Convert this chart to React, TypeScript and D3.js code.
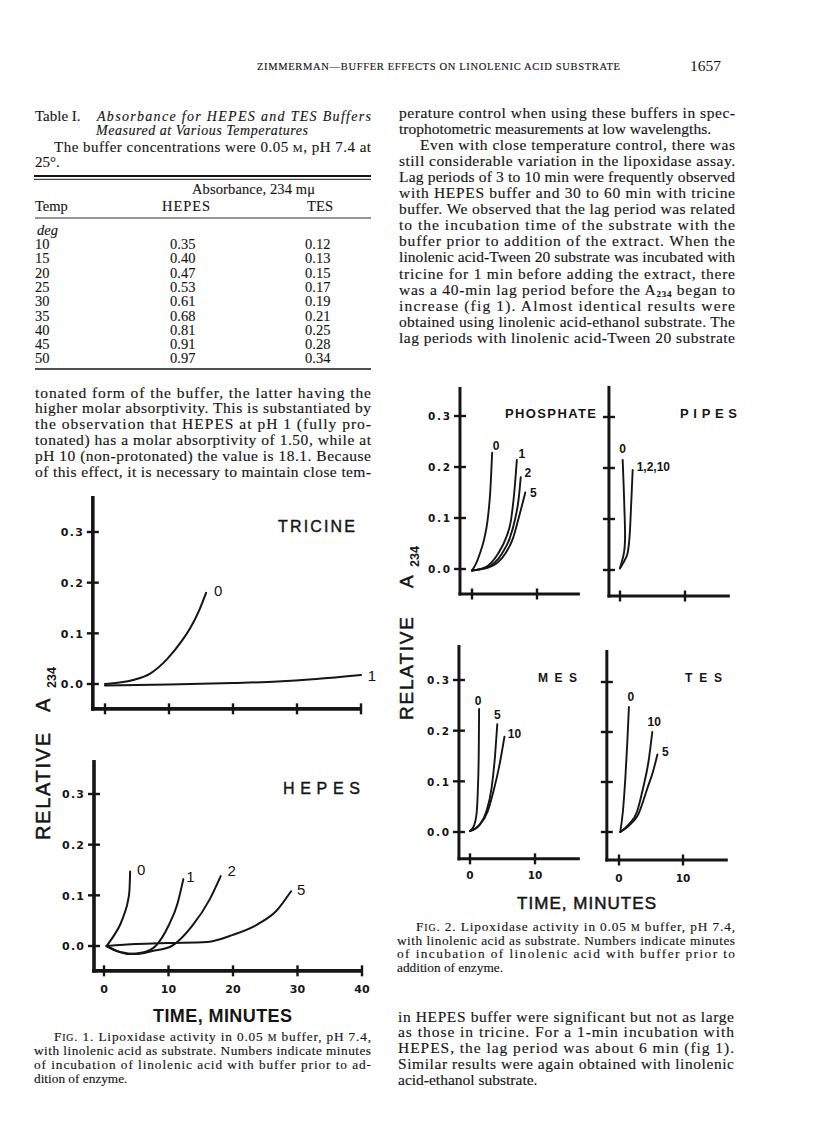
import React from "react";
import * as d3 from "d3";

type Pt = [number, number];

// ---------------- Table I data ----------------
const tableTemps = [10, 15, 20, 25, 30, 35, 40, 45, 50];
const tableHepes = [0.35, 0.4, 0.47, 0.53, 0.61, 0.68, 0.81, 0.91, 0.97];
const tableTes = [0.12, 0.13, 0.15, 0.17, 0.19, 0.21, 0.25, 0.28, 0.34];

// ---------------- shared ticks ----------------
const absTicks = [0.0, 0.1, 0.2, 0.3];
const fig1XTicks = [0, 10, 20, 30, 40];
const fig2XTicks = [0, 10];

// ---------------- Fig. 1 : TRICINE ----------------
const tricine0: Pt[] = [[0, 0], [4.4, 0.008], [7, 0.02], [9.7, 0.049], [12, 0.085], [13.3, 0.11], [14.7, 0.145], [15.8, 0.18]];
const tricine1: Pt[] = [[0, -0.003], [10, -0.001], [20, 0.002], [27, 0.005], [33, 0.01], [40, 0.018]];
const tricineLabels = ["0", "1"];

// ---------------- Fig. 1 : HEPES ----------------
const hepes0: Pt[] = [[0.4, 0], [1.5, 0.02], [2.5, 0.042], [3.2, 0.065], [3.7, 0.088], [3.95, 0.11], [4.05, 0.147]];
const hepes1: Pt[] = [[0.4, 0], [2, -0.01], [4, -0.016], [6, -0.013], [8, 0], [10, 0.04], [11.4, 0.084], [12.3, 0.132]];
const hepes2: Pt[] = [[0.4, 0], [2.5, -0.012], [5, -0.016], [7.5, -0.01], [10.5, 0], [13.7, 0.04], [16.3, 0.09], [18.1, 0.138]];
const hepes5: Pt[] = [[0.4, 0], [5, 0.004], [10, 0.006], [16, 0.008], [20, 0.022], [24, 0.044], [26.7, 0.069], [29, 0.108]];
const hepesLabels = ["0", "1", "2", "5"];

// ---------------- Fig. 2 : PHOSPHATE ----------------
const phosphate0: Pt[] = [[0, -0.003], [0.6, 0.01], [1.2, 0.03], [1.9, 0.06], [2.4, 0.096], [2.8, 0.15], [3.1, 0.228]];
const phosphate1: Pt[] = [[0, -0.003], [2, 0.003], [4, 0.03], [5.2, 0.06], [6, 0.096], [6.5, 0.15], [6.9, 0.214]];
const phosphate2: Pt[] = [[0, -0.003], [2.3, 0.003], [4.6, 0.03], [5.8, 0.06], [6.6, 0.096], [7.2, 0.14], [7.5, 0.18]];
const phosphate5: Pt[] = [[0, -0.003], [2.6, 0.003], [5.1, 0.03], [6.3, 0.06], [7.1, 0.096], [7.8, 0.13], [8.2, 0.15]];
const phosphateLabels = ["0", "1", "2", "5"];

// ---------------- Fig. 2 : PIPES ----------------
const pipes0: Pt[] = [[0, 0.004], [0.6, 0.033], [0.77, 0.059], [0.67, 0.124], [0.41, 0.216]];
const pipes1210: Pt[] = [[0, 0.003], [0.5, 0.014], [1.1, 0.03], [1.43, 0.059], [1.7, 0.124], [1.95, 0.196]];
const pipesLabels = ["0", "1,2,10"];

// ---------------- Fig. 2 : MES ----------------
const mes0: Pt[] = [[0, 0.002], [0.6, 0.012], [1.0, 0.035], [1.2, 0.08], [1.35, 0.16], [1.4, 0.243]];
const mes5: Pt[] = [[0, 0.002], [1.5, 0.015], [2.5, 0.04], [3.3, 0.085], [3.85, 0.15], [4.2, 0.213]];
const mes10: Pt[] = [[0, 0.002], [1.5, 0.014], [2.7, 0.04], [3.6, 0.08], [4.5, 0.13], [5.3, 0.188]];
const mesLabels = ["0", "5", "10"];

// ---------------- Fig. 2 : TES ----------------
const tes0: Pt[] = [[0.2, 0], [0.6, 0.04], [1.0, 0.11], [1.3, 0.18], [1.55, 0.25]];
const tes10: Pt[] = [[0.2, 0], [1.5, 0.015], [2.8, 0.04], [3.8, 0.09], [4.6, 0.14], [5.2, 0.2]];
const tes5: Pt[] = [[0.2, 0], [1.5, 0.012], [3, 0.035], [4.5, 0.09], [5.3, 0.12], [6, 0.155]];
const tesLabels = ["0", "10", "5"];

// ---------------- styling ----------------
const SERIF = "'Liberation Serif', 'Times New Roman', serif";
const SANS = "'Liberation Sans', Arial, sans-serif";
const TICKFONT = "'DejaVu Sans', 'Liberation Sans', sans-serif";
const INK = "#151515";

interface PanelCfg {
  xDomain: [number, number];
  xRange: [number, number];
  yRange: [number, number];
  frame: { x0: number; x1: number; y0: number; y1: number };
  xTicks: number[];
  xTickLabels: boolean;
  xLabelDy: number;
  yTickLabels: boolean;
  tickFont: number;
  title: string;
  titlePos: [number, number, number];
  titleSize: number;
  titleWeight: string;
  series: Pt[][];
  labels: string[];
  labelOffsets: [number, number][];
  labelAnchors?: string[];
  labelSize: number;
  labelWeight: string;
  curve: d3.CurveFactory;
  axisW: number;
  lineW: number;
}

const panels: PanelCfg[] = [
  {
    xDomain: [0, 40], xRange: [105, 361], yRange: [684, 532],
    frame: { x0: -1.9, x1: 40, y0: -0.049, y1: 0.371 },
    xTicks: fig1XTicks, xTickLabels: false, xLabelDy: 22, yTickLabels: true, tickFont: 11,
    title: "TRICINE", titlePos: [278, 532, 77], titleSize: 16, titleWeight: "normal",
    series: [tricine0, tricine1], labels: tricineLabels,
    labelOffsets: [[12, -2], [11, 1]], labelSize: 15, labelWeight: "normal",
    curve: d3.curveMonotoneX, axisW: 3.6, lineW: 2,
  },
  {
    xDomain: [0, 40], xRange: [104, 362], yRange: [946, 794],
    frame: { x0: -1.55, x1: 40, y0: -0.049, y1: 0.367 },
    xTicks: fig1XTicks, xTickLabels: true, xLabelDy: 22.5, yTickLabels: true, tickFont: 11,
    title: "HEPES", titlePos: [283, 794, 77], titleSize: 16, titleWeight: "normal",
    series: [hepes0, hepes1, hepes2, hepes5], labels: hepesLabels,
    labelOffsets: [[11, -2], [7, -3], [11, -5], [10, -2]], labelSize: 15, labelWeight: "normal",
    curve: d3.curveMonotoneX, axisW: 3.6, lineW: 2,
  },
  {
    xDomain: [0, 10], xRange: [472, 537], yRange: [569, 416],
    frame: { x0: -1.85, x1: 16.6, y0: -0.049, y1: 0.357 },
    xTicks: fig2XTicks, xTickLabels: false, xLabelDy: 21, yTickLabels: true, tickFont: 10.5,
    title: "PHOSPHATE", titlePos: [505, 418, 91], titleSize: 13, titleWeight: "bold",
    series: [phosphate0, phosphate1, phosphate2, phosphate5], labels: phosphateLabels,
    labelOffsets: [[4, -7], [5, -6], [7, -5], [8, 0]], labelSize: 12, labelWeight: "bold",
    curve: d3.curveMonotoneX, axisW: 3, lineW: 1.9,
  },
  {
    xDomain: [0, 10], xRange: [620, 685], yRange: [570, 417],
    frame: { x0: -1.7, x1: 16.9, y0: -0.051, y1: 0.361 },
    xTicks: fig2XTicks, xTickLabels: false, xLabelDy: 21, yTickLabels: false, tickFont: 10.5,
    title: "PIPES", titlePos: [680, 418, 57], titleSize: 13, titleWeight: "bold",
    series: [pipes0, pipes1210], labels: pipesLabels,
    labelOffsets: [[0, -11], [4, -3]], labelAnchors: ["middle", "start"], labelSize: 12, labelWeight: "bold",
    curve: d3.curveCatmullRom.alpha(0.5), axisW: 3, lineW: 1.9,
  },
  {
    xDomain: [0, 10], xRange: [470, 535], yRange: [832, 680],
    frame: { x0: -1.7, x1: 16.9, y0: -0.053, y1: 0.369 },
    xTicks: fig2XTicks, xTickLabels: true, xLabelDy: 20.5, yTickLabels: true, tickFont: 10.5,
    title: "MES", titlePos: [538, 681.5, 39], titleSize: 12, titleWeight: "bold",
    series: [mes0, mes5, mes10], labels: mesLabels,
    labelOffsets: [[-1, -8], [0, -9], [10, -3]], labelSize: 12, labelWeight: "bold",
    curve: d3.curveMonotoneX, axisW: 3, lineW: 1.9,
  },
  {
    xDomain: [0, 10], xRange: [619, 683], yRange: [832, 682],
    frame: { x0: -1.9, x1: 17, y0: -0.056, y1: 0.364 },
    xTicks: fig2XTicks, xTickLabels: true, xLabelDy: 21.5, yTickLabels: false, tickFont: 10.5,
    title: "TES", titlePos: [685, 681.5, 37], titleSize: 12, titleWeight: "bold",
    series: [tes0, tes10, tes5], labels: tesLabels,
    labelOffsets: [[2, -10], [2, -10], [8, -3]], labelSize: 12, labelWeight: "bold",
    curve: d3.curveMonotoneX, axisW: 3, lineW: 1.9,
  },
];

function Panel({ p }: { p: PanelCfg }) {
  const x = d3.scaleLinear().domain(p.xDomain).range(p.xRange);
  const y = d3.scaleLinear().domain([0, 0.3]).range(p.yRange);
  const line = d3.line<Pt>().x((d) => x(d[0])).y((d) => y(d[1])).curve(p.curve);
  const fx0 = x(p.frame.x0);
  const fx1 = x(p.frame.x1);
  const fy0 = y(p.frame.y0);
  const fy1 = y(p.frame.y1);
  return (
    <g>
      <line x1={fx0} y1={fy1} x2={fx0} y2={fy0 + p.axisW / 2} stroke={INK} strokeWidth={p.axisW} />
      <line x1={fx0 - p.axisW / 2} y1={fy0} x2={fx1} y2={fy0} stroke={INK} strokeWidth={p.axisW} />
      {absTicks.map((v) => (
        <g key={"y" + v}>
          <line x1={fx0 - 6} x2={fx0 + 6} y1={y(v)} y2={y(v)} stroke={INK} strokeWidth={2.4} />
          {p.yTickLabels && (
            <text x={fx0 - 10} y={y(v) + 4.2} textAnchor="end" fontFamily={TICKFONT} fontWeight="bold"
              fontSize={p.tickFont} textLength={22} lengthAdjust="spacing" fill={INK}>
              {v.toFixed(1)}
            </text>
          )}
        </g>
      ))}
      {p.xTicks.map((v) => (
        <g key={"x" + v}>
          <line x1={x(v)} x2={x(v)} y1={fy0 - 5.5} y2={fy0 + 5.5} stroke={INK} strokeWidth={2.4} />
          {p.xTickLabels && (
            <text x={x(v)} y={fy0 + p.xLabelDy} textAnchor="middle" fontFamily={TICKFONT} fontWeight="bold"
              fontSize={p.tickFont} fill={INK}>
              {String(v)}
            </text>
          )}
        </g>
      ))}
      <text x={p.titlePos[0]} y={p.titlePos[1]} textLength={p.titlePos[2]} lengthAdjust="spacing"
        fontFamily={SANS} fontWeight={p.titleWeight} fontSize={p.titleSize} fill={INK}
        stroke={p.titleWeight === "normal" ? INK : "none"} strokeWidth={0.4}>
        {p.title}
      </text>
      {p.series.map((s, i) => {
        const end = s[s.length - 1];
        const off = p.labelOffsets[i];
        return (
          <g key={"s" + i}>
            <path d={line(s) || ""} fill="none" stroke={INK} strokeWidth={p.lineW} strokeLinecap="round" />
            <text x={x(end[0]) + off[0]} y={y(end[1]) + off[1]} dy="0.36em"
              textAnchor={p.labelAnchors ? p.labelAnchors[i] : "middle"}
              fontFamily={SANS} fontWeight={p.labelWeight} fontSize={p.labelSize} fill={INK}>
              {p.labels[i]}
            </text>
          </g>
        );
      })}
    </g>
  );
}

function YLabel({ cx, bottom, len, aStart, subStart, size }: { cx: number; bottom: number; len: number; aStart: number; subStart: number; size: number }) {
  const base = cx + size * 0.36;
  const common = { fontFamily: SANS, fill: INK, stroke: INK, strokeWidth: 0.5 } as const;
  return (
    <g>
      <text transform={`translate(${base},${bottom}) rotate(-90)`} fontSize={size} textLength={len} lengthAdjust="spacing" {...common}>
        RELATIVE
      </text>
      <text transform={`translate(${base},${aStart}) rotate(-90)`} fontSize={size} {...common}>A</text>
      <text transform={`translate(${base + 6},${subStart}) rotate(-90)`} fontSize={12.5} fontWeight="bold" fontFamily={SANS} fill={INK}>234</text>
    </g>
  );
}

type Seg = string | { sub: string } | { sc: string };
interface Row { segs: Seg[]; j: boolean; indent?: number }

const LX = 35, RX = 399, CW = 336;

const leftPara: string[] = [
  "tonated form of the buffer, the latter having the",
  "higher molar absorptivity. This is substantiated by",
  "the observation that HEPES at pH 1 (fully pro-",
  "tonated) has a molar absorptivity of 1.50, while at",
  "pH 10 (non-protonated) the value is 18.1. Because",
  "of this effect, it is necessary to maintain close tem-",
];

const rightTop: Row[] = [
  { segs: ["perature control when using these buffers in spec-"], j: true },
  { segs: ["trophotometric measurements at low wavelengths."], j: false },
  { segs: ["Even with close temperature control, there was"], j: true, indent: 21 },
  { segs: ["still considerable variation in the lipoxidase assay."], j: true },
  { segs: ["Lag periods of 3 to 10 min were frequently observed"], j: true },
  { segs: ["with HEPES buffer and 30 to 60 min with tricine"], j: true },
  { segs: ["buffer. We observed that the lag period was related"], j: true },
  { segs: ["to the incubation time of the substrate with the"], j: true },
  { segs: ["buffer prior to addition of the extract. When the"], j: true },
  { segs: ["linolenic acid-Tween 20 substrate was incubated with"], j: true },
  { segs: ["tricine for 1 min before adding the extract, there"], j: true },
  { segs: ["was a 40-min lag period before the A", { sub: "234" }, " began to"], j: true },
  { segs: ["increase (fig 1). Almost identical results were"], j: true },
  { segs: ["obtained using linolenic acid-ethanol substrate. The"], j: true },
  { segs: ["lag periods with linolenic acid-Tween 20 substrate"], j: true },
];

const rightBottom: Row[] = [
  { segs: ["in HEPES buffer were significant but not as large"], j: true },
  { segs: ["as those in tricine. For a 1-min incubation with"], j: true },
  { segs: ["HEPES, the lag period was about 6 min (fig 1)."], j: true },
  { segs: ["Similar results were again obtained with linolenic"], j: true },
  { segs: ["acid-ethanol substrate."], j: false },
];

const fig1Caption: Row[] = [
  { segs: ["F", { sc: "IG" }, ". 1.  Lipoxidase activity in 0.05 ", { sc: "M" }, " buffer, pH 7.4,"], j: true, indent: 20 },
  { segs: ["with linolenic acid as substrate. Numbers indicate minutes"], j: true },
  { segs: ["of incubation of linolenic acid with buffer prior to ad-"], j: true },
  { segs: ["dition of enzyme."], j: false },
];

const fig2Caption: Row[] = [
  { segs: ["F", { sc: "IG" }, ". 2.  Lipoxidase activity in 0.05 ", { sc: "M" }, " buffer, pH 7.4,"], j: true, indent: 19 },
  { segs: ["with linolenic acid as substrate. Numbers indicate minutes"], j: true },
  { segs: ["of incubation of linolenic acid with buffer prior to"], j: true },
  { segs: ["addition of enzyme."], j: false },
];

function Paragraph({ rows, x0, y0, lh, size, width = CW }: { rows: Row[]; x0: number; y0: number; lh: number; size: number; width?: number }) {
  return (
    <g>
      {rows.map((r, i) => {
        const ind = r.indent || 0;
        return (
          <text key={i} x={x0 + ind} y={y0 + i * lh} fontFamily={SERIF} fontSize={size} fill={INK}
            stroke={INK} strokeWidth={0.15}
            textLength={r.j ? width - ind : undefined} lengthAdjust={r.j ? "spacing" : undefined}>
            {r.segs.map((s, k) => {
              if (typeof s === "string") {
                const prev = r.segs[k - 1];
                const after = prev && typeof prev !== "string" && "sub" in prev;
                return <tspan key={k} dy={after ? -2 : undefined}>{s}</tspan>;
              }
              if ("sub" in s) return <tspan key={k} fontSize="0.58em" fontWeight="bold" dy={2}>{s.sub}</tspan>;
              return <tspan key={k} fontSize="0.74em">{s.sc}</tspan>;
            })}
          </text>
        );
      })}
    </g>
  );
}

function Table() {
  const rowY = (i: number) => 249 + i * 14.3;
  return (
    <g fontFamily={SERIF} fill={INK} stroke={INK} strokeWidth={0.12}>
      <text x={35} y={121} fontSize={15}>Table I.</text>
      <text x={97} y={121} fontSize={14} fontStyle="italic" textLength={274} lengthAdjust="spacing">
        Absorbance for HEPES and TES Buffers
      </text>
      <text x={96} y={134.5} fontSize={14} fontStyle="italic" textLength={212} lengthAdjust="spacing">
        Measured at Various Temperatures
      </text>
      <text x={54} y={151.5} fontSize={15} textLength={317} lengthAdjust="spacing">
        The buffer concentrations were 0.05 <tspan fontSize="0.74em">M</tspan>, pH 7.4 at
      </text>
      <text x={35} y={166.5} fontSize={15}>25°.</text>
      <line x1={34} x2={371} y1={176} y2={176} stroke={INK} strokeWidth={1.8} />
      <line x1={34} x2={371} y1={179.3} y2={179.3} stroke={INK} strokeWidth={1} />
      <text x={192} y={194} fontSize={14.5} textLength={123} lengthAdjust="spacing">Absorbance, 234 mμ</text>
      <text x={35} y={211} fontSize={14.5}>Temp</text>
      <text x={162} y={211} fontSize={14.5} textLength={48} lengthAdjust="spacing">HEPES</text>
      <text x={307} y={211} fontSize={14.5} textLength={26} lengthAdjust="spacing">TES</text>
      <line x1={35} x2={371} y1={218} y2={218} stroke={INK} strokeWidth={0.9} />
      <text x={37} y={235} fontSize={14.5} fontStyle="italic">deg</text>
      {tableTemps.map((t, i) => (
        <g key={t} fontSize={14.5}>
          <text x={35} y={rowY(i)}>{t}</text>
          <text x={170} y={rowY(i)}>{tableHepes[i].toFixed(2)}</text>
          <text x={305} y={rowY(i)}>{tableTes[i].toFixed(2)}</text>
        </g>
      ))}
      <line x1={35} x2={371} y1={369} y2={369} stroke={INK} strokeWidth={1.3} />
    </g>
  );
}

export default function App() {
  return (
    <svg width={816} height={1143} viewBox="0 0 816 1143"
      style={{ position: "absolute", left: 0, top: 0, background: "#fff" }}>
      <rect width={816} height={1143} fill="#fff" />
      {/* running header */}
      <text x={257} y={70} fontFamily={SERIF} fontSize={10.5} textLength={363} lengthAdjust="spacing" fill={INK} stroke={INK} strokeWidth={0.15}>
        ZIMMERMAN—BUFFER EFFECTS ON LINOLENIC ACID SUBSTRATE
      </text>
      <text x={690} y={71} fontFamily={SERIF} fontSize={15.5} fill={INK}>1657</text>

      <Table />

      <Paragraph rows={leftPara.map((t) => ({ segs: [t], j: true }))} x0={LX} y0={397.5} lh={15.8} size={15.5} />
      <Paragraph rows={rightTop} x0={RX} y0={117.5} lh={16.1} size={15.5} />
      <Paragraph rows={rightBottom} x0={RX - 1} y0={1021.5} lh={15.8} size={15.5} />

      {/* Fig. 1 */}
      <Panel p={panels[0]} />
      <Panel p={panels[1]} />
      <YLabel cx={43} bottom={840} len={107} aStart={712} subStart={688} size={20} />
      <text x={153} y={1022} fontFamily={SANS} fontWeight="bold" fontSize={18} textLength={139} lengthAdjust="spacing" fill={INK}>
        TIME, MINUTES
      </text>
      <Paragraph rows={fig1Caption} x0={34} y0={1041} lh={14} size={13.3} width={337} />

      {/* Fig. 2 */}
      {panels.slice(2).map((p, i) => <Panel key={i} p={p} />)}
      <YLabel cx={406} bottom={720} len={103} aStart={588} subStart={567} size={19} />
      <text x={517} y={909} fontFamily={SANS} fontSize={17} textLength={139} lengthAdjust="spacing" fill={INK} stroke={INK} strokeWidth={0.5}>
        TIME, MINUTES
      </text>
      <Paragraph rows={fig2Caption} x0={397} y0={931} lh={13.7} size={13.3} width={338} />
    </svg>
  );
}
